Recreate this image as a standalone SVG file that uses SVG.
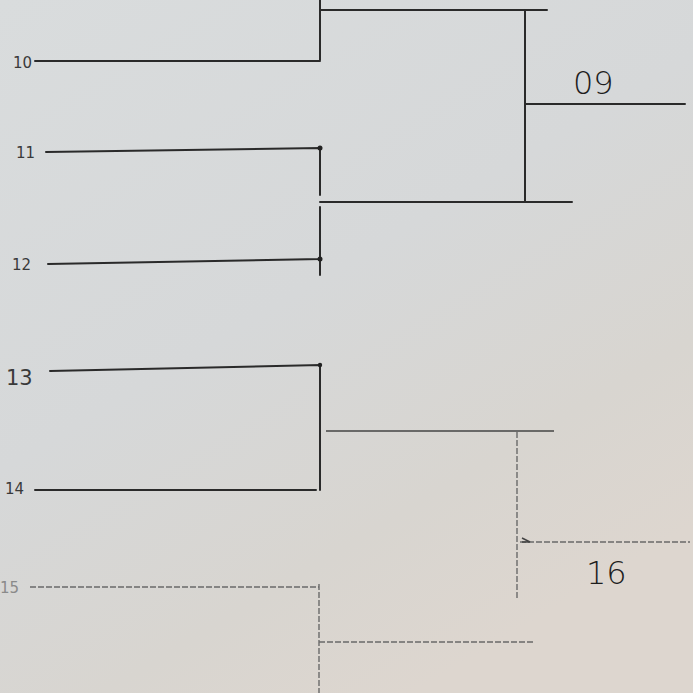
<svg xmlns="http://www.w3.org/2000/svg" width="693" height="693" viewBox="0 0 693 693">
<defs>
<linearGradient id="paper" x1="0" y1="0" x2="0.6" y2="1">
<stop offset="0" stop-color="#d9dcdd"/>
<stop offset="0.5" stop-color="#d6d8d9"/>
<stop offset="0.8" stop-color="#d8d5d0"/>
<stop offset="1" stop-color="#ddd6cf"/>
</linearGradient>
<style>
.ink{stroke:#2a2a2a;stroke-width:2;fill:none;stroke-linecap:round}
.thin{stroke:#444;stroke-width:1.5;fill:none}
.faint{stroke:#6a6a6a;stroke-width:1.4;fill:none;stroke-dasharray:6 2}
.lbl{font-family:"DejaVu Sans",sans-serif;fill:#3a3a3a;font-size:15px}
.big{font-family:"DejaVu Sans",sans-serif;fill:#1e1e1e;font-size:32px;font-weight:300}
.dot{fill:#222}
</style>
</defs>
<rect width="693" height="693" fill="url(#paper)"/>
<g id="connectors">
<path class="ink" d="M320,0 V60 M35,61 H320 M320,10 H547"/>
<path class="ink" d="M525,10 V201 M320,202 H572 M525,104 H685"/>
<path class="ink" d="M46,152 L320,148 V195 M48,264 L320,259 V207 M320,207 V275"/>
<path class="ink" d="M50,371 L320,365 V490 M35,490 H316"/>
<path class="thin" d="M326,431 H554"/>
<path class="faint" d="M517,432 V600 M520,542 H690 M30,587 H319 M319,584 V693 M319,642 H533"/>
<path class="thin" d="M522,538 L530,542 L522,542"/>
</g>
<circle class="dot" cx="320" cy="148" r="2.5"/>
<circle class="dot" cx="320" cy="259" r="2.5"/>
<circle class="dot" cx="320" cy="365" r="2.2"/>
<g id="n10"><text class="lbl" x="13" y="68">10</text></g>
<g id="n11"><text class="lbl" x="16" y="158">11</text></g>
<g id="n12"><text class="lbl" x="12" y="270">12</text></g>
<g id="n13"><text class="lbl" x="6" y="385" style="font-size:21px">13</text></g>
<g id="n14"><text class="lbl" x="5" y="494">14</text></g>
<g id="n15"><text class="lbl" x="0" y="593" style="fill:#8a8a8a">15</text></g>
<g id="n09"><text class="big" x="573" y="94">09</text></g>
<g id="n16"><text class="big" x="586" y="584">16</text></g>
</svg>
